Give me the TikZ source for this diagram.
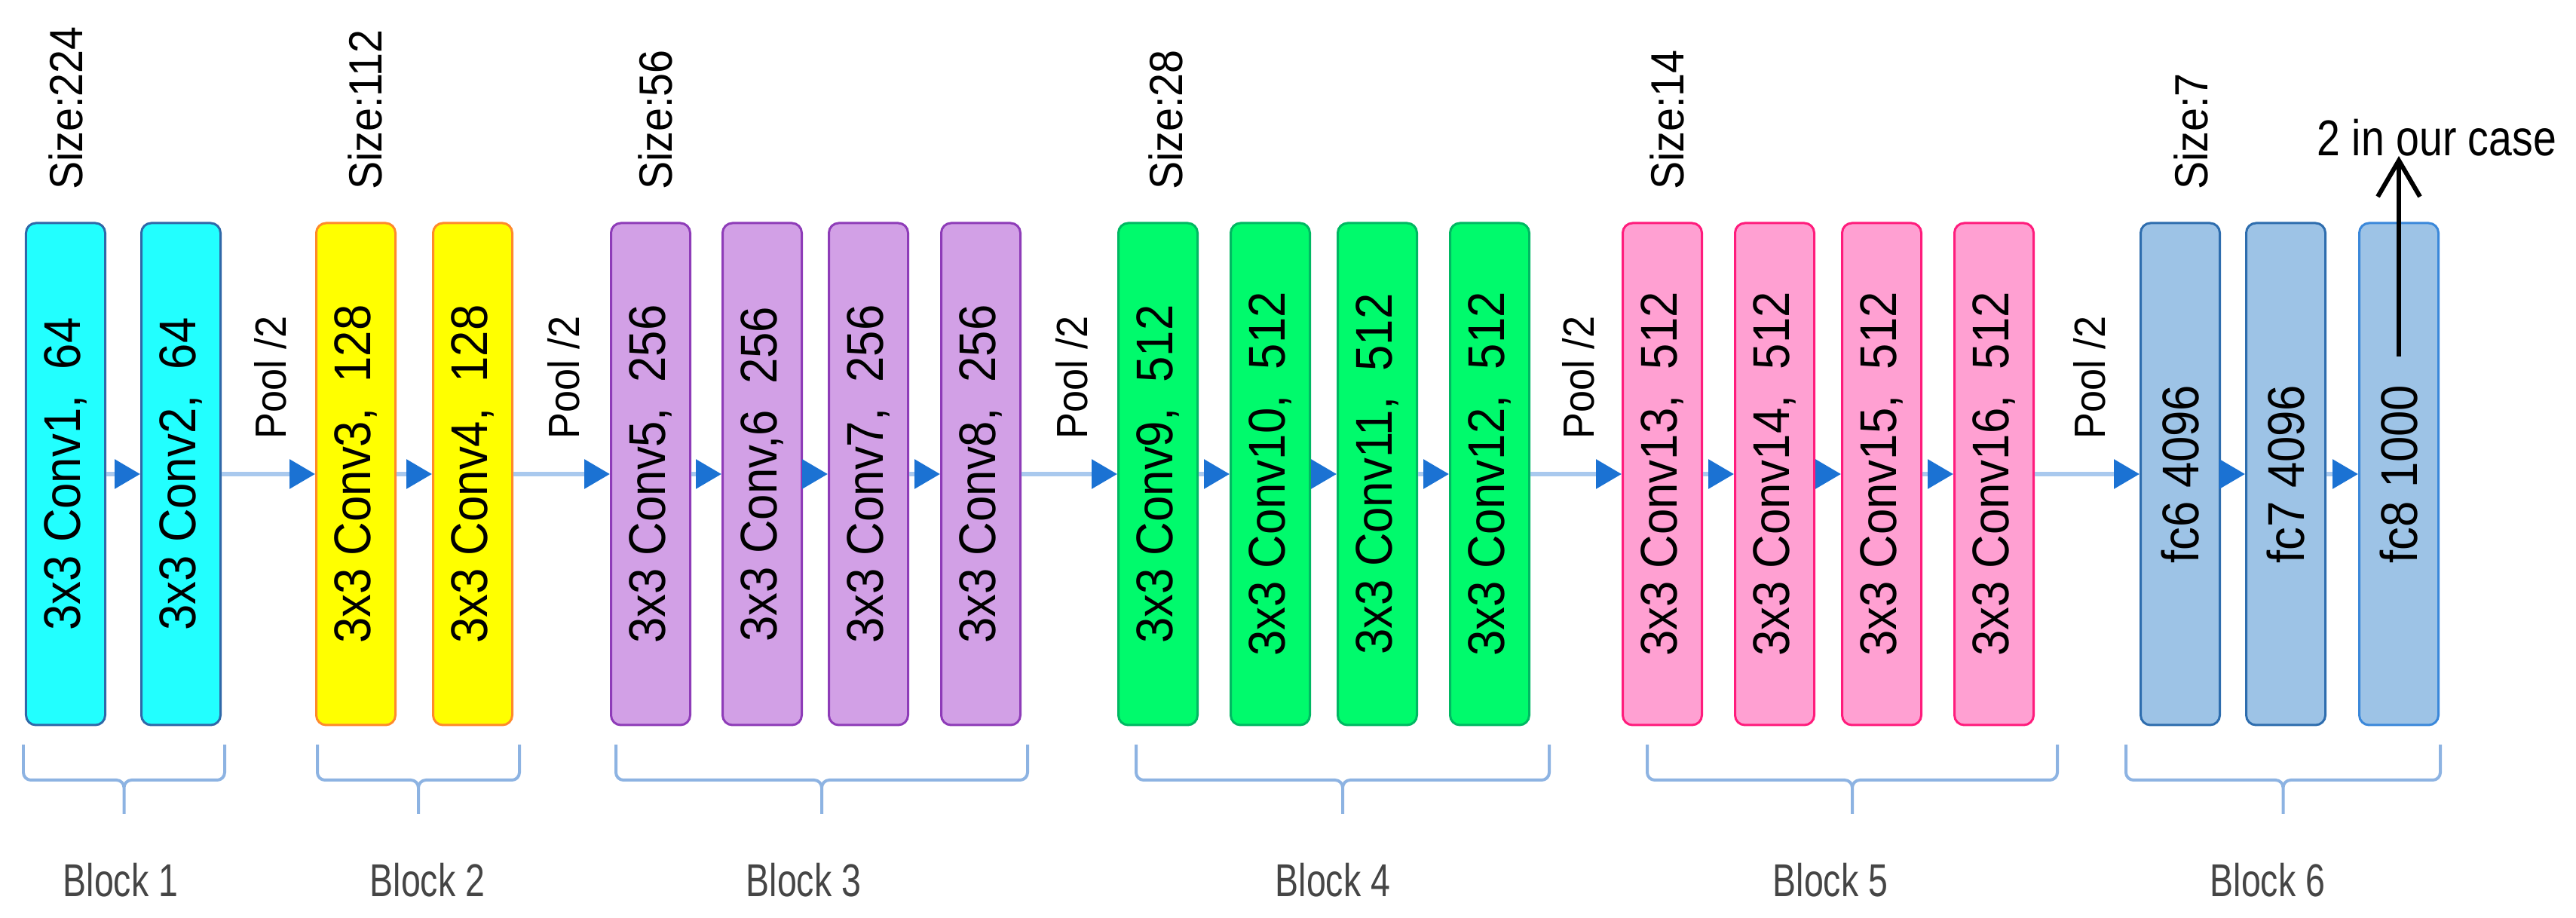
\documentclass[tikz,border=0pt]{standalone}
\usepackage{fontspec}
\setmainfont{Liberation Sans}
\newfontfamily\convfont[FakeStretch=0.9]{Liberation Sans}
\newfontfamily\narrowfont[FakeStretch=0.76]{Liberation Sans}
\newfontfamily\casefont[FakeStretch=0.83]{Liberation Sans}
\usetikzlibrary{arrows.meta,calc}
\definecolor{cyanfill}{HTML}{22FFFF}
\definecolor{cyanline}{HTML}{2F68A8}
\definecolor{yellowfill}{HTML}{FFFF00}
\definecolor{yellowline}{HTML}{FF8A2B}
\definecolor{purplefill}{HTML}{D2A0E6}
\definecolor{purpleline}{HTML}{8E3CB8}
\definecolor{greenfill}{HTML}{00FA6C}
\definecolor{greenline}{HTML}{00B862}
\definecolor{pinkfill}{HTML}{FFA0D2}
\definecolor{pinkline}{HTML}{FF1C7C}
\definecolor{fcfill}{HTML}{9DC3E6}
\definecolor{fcline}{HTML}{2E6DAE}
\definecolor{fclight}{HTML}{3B88DA}
\definecolor{flowline}{HTML}{A9C9EE}
\definecolor{flowhead}{HTML}{1B72D3}
\definecolor{braceline}{HTML}{8DB3E2}
\definecolor{blocktext}{HTML}{454545}
\newcommand{\blockbrace}[2]{%
  \draw[brace] (#1,2.30) -- ++(0,-0.37)
    arc[start angle=180,end angle=270,radius=0.1] -- ({(#1+#2)/2-0.1},1.83)
    arc[start angle=90,end angle=0,radius=0.1] -- ++(0,-0.35) ++(0,0.35)
    arc[start angle=180,end angle=90,radius=0.1] -- ({#2-0.1},1.83)
    arc[start angle=270,end angle=360,radius=0.1] -- (#2,2.30);}
\begin{document}
\begin{tikzpicture}[
    conv/.style={draw, rotate=90, rounded corners=0.13cm, line width=0.03cm,
      minimum width=6.66cm, minimum height=1.05cm, inner sep=0pt,
      font=\convfont\fontsize{19.5}{22}\selectfont},
    cyanbox/.style={conv, fill=cyanfill, draw=cyanline},
    yellowbox/.style={conv, fill=yellowfill, draw=yellowline},
    purplebox/.style={conv, fill=purplefill, draw=purpleline},
    greenbox/.style={conv, fill=greenfill, draw=greenline},
    pinkbox/.style={conv, fill=pinkfill, draw=pinkline},
    fcbox/.style={conv, fill=fcfill, draw=fcline},
    sizelab/.style={rotate=90, anchor=west, inner sep=0pt,
      font=\convfont\fontsize{17.6}{20}\selectfont},
    poollab/.style={rotate=90, anchor=west, inner sep=0pt,
      font=\convfont\fontsize{16.5}{19}\selectfont},
    blocklab/.style={anchor=base, inner sep=0pt, text=blocktext,
      font=\narrowfont\fontsize{17.4}{20}\selectfont},
    caselab/.style={anchor=base west, inner sep=0pt,
      font=\casefont\fontsize{19}{22}\selectfont},
    flow/.style={draw=flowline, line width=0.06cm,
      -{Triangle[length=0.34cm,width=0.38cm,color=flowhead]}},
    brace/.style={draw=braceline, line width=0.04cm, line join=round},
    outarrow/.style={draw=black, line width=0.06cm,
      -{Straight Barb[length=0.48cm,width=0.56cm]}}
  ]
  \useasboundingbox (0,0) rectangle (34.17,12.18);

  \node[cyanbox] (c1) at (0.87,5.89) {3x3 Conv1,\ \ 64};
  \node[cyanbox] (c2) at (2.40,5.89) {3x3 Conv2,\ \ 64};
  \node[yellowbox] (c3) at (4.72,5.89) {3x3 Conv3,\ \ 128};
  \node[yellowbox] (c4) at (6.27,5.89) {3x3 Conv4,\ \ 128};
  \node[purplebox] (c5) at (8.63,5.89) {3x3 Conv5,\ \ 256};
  \node[purplebox] (c6) at (10.11,5.89) {3x3 Conv,6\ \ 256};
  \node[purplebox] (c7) at (11.52,5.89) {3x3 Conv7,\ \ 256};
  \node[purplebox] (c8) at (13.01,5.89) {3x3 Conv8,\ \ 256};
  \node[greenbox] (c9) at (15.36,5.89) {3x3 Conv9,\ \ 512};
  \node[greenbox] (c10) at (16.85,5.89) {3x3 Conv10,\ \ 512};
  \node[greenbox] (c11) at (18.27,5.89) {3x3 Conv11,\ \ 512};
  \node[greenbox] (c12) at (19.76,5.89) {3x3 Conv12,\ \ 512};
  \node[pinkbox] (c13) at (22.05,5.89) {3x3 Conv13,\ \ 512};
  \node[pinkbox] (c14) at (23.54,5.89) {3x3 Conv14,\ \ 512};
  \node[pinkbox] (c15) at (24.96,5.89) {3x3 Conv15,\ \ 512};
  \node[pinkbox] (c16) at (26.45,5.89) {3x3 Conv16,\ \ 512};
  \node[fcbox] (fc6) at (28.92,5.89) {fc6 4096};
  \node[fcbox] (fc7) at (30.32,5.89) {fc7 4096};
  \node[fcbox, draw=fclight] (fc8) at (31.82,5.89) {fc8 1000};

  \node[sizelab] (s1) at ($(c1.east)+(0.00,0.42)$) {Size:224};
  \node[sizelab] (s2) at ($(c3.east)+(0.12,0.42)$) {Size:112};
  \node[sizelab] (s3) at ($(c5.east)+(0.06,0.42)$) {Size:56};
  \node[sizelab] (s4) at ($(c9.east)+(0.10,0.42)$) {Size:28};
  \node[sizelab] (s5) at ($(c13.east)+(0.06,0.42)$) {Size:14};
  \node[sizelab] (s6) at ($(fc6.east)+(0.14,0.42)$) {Size:7};

  \node[poollab] (p1) at ($(c2)!0.5!(c3)+(0.03,0.46)$) {Pool /2};
  \node[poollab] (p2) at ($(c4)!0.5!(c5)+(0.03,0.46)$) {Pool /2};
  \node[poollab] (p3) at ($(c8)!0.5!(c9)+(0.03,0.46)$) {Pool /2};
  \node[poollab] (p4) at ($(c12)!0.5!(c13)+(0.03,0.46)$) {Pool /2};
  \node[poollab] (p5) at ($(c16)!0.5!(fc6)+(0.03,0.46)$) {Pool /2};

  \draw[flow] (c1) -- (c2);
  \draw[flow] (c2) -- (c3);
  \draw[flow] (c3) -- (c4);
  \draw[flow] (c4) -- (c5);
  \draw[flow] (c5) -- (c6);
  \draw[flow] (c6) -- (c7);
  \draw[flow] (c7) -- (c8);
  \draw[flow] (c8) -- (c9);
  \draw[flow] (c9) -- (c10);
  \draw[flow] (c10) -- (c11);
  \draw[flow] (c11) -- (c12);
  \draw[flow] (c12) -- (c13);
  \draw[flow] (c13) -- (c14);
  \draw[flow] (c14) -- (c15);
  \draw[flow] (c15) -- (c16);
  \draw[flow] (c16) -- (fc6);
  \draw[flow] (fc6) -- (fc7);
  \draw[flow] (fc7) -- (fc8);

  \node[caselab] (outlbl) at (30.73,10.11) {2 in our case};
  \coordinate (fcout) at ($(fc8.east)+(0,-1.79)$);
  \draw[outarrow] (fcout) -- (fcout |- outlbl.base);

  \blockbrace{0.31}{2.98}
  \blockbrace{4.21}{6.89}
  \blockbrace{8.17}{13.63}
  \blockbrace{15.07}{20.55}
  \blockbrace{21.85}{27.29}
  \blockbrace{28.20}{32.37}

  \node[blocklab] (bl1) at (1.60,0.29) {Block 1};
  \node[blocklab] (bl2) at (5.67,0.29) {Block 2};
  \node[blocklab] (bl3) at (10.66,0.29) {Block 3};
  \node[blocklab] (bl4) at (17.68,0.29) {Block 4};
  \node[blocklab] (bl5) at (24.28,0.29) {Block 5};
  \node[blocklab] (bl6) at (30.08,0.29) {Block 6};
\end{tikzpicture}
\end{document}
